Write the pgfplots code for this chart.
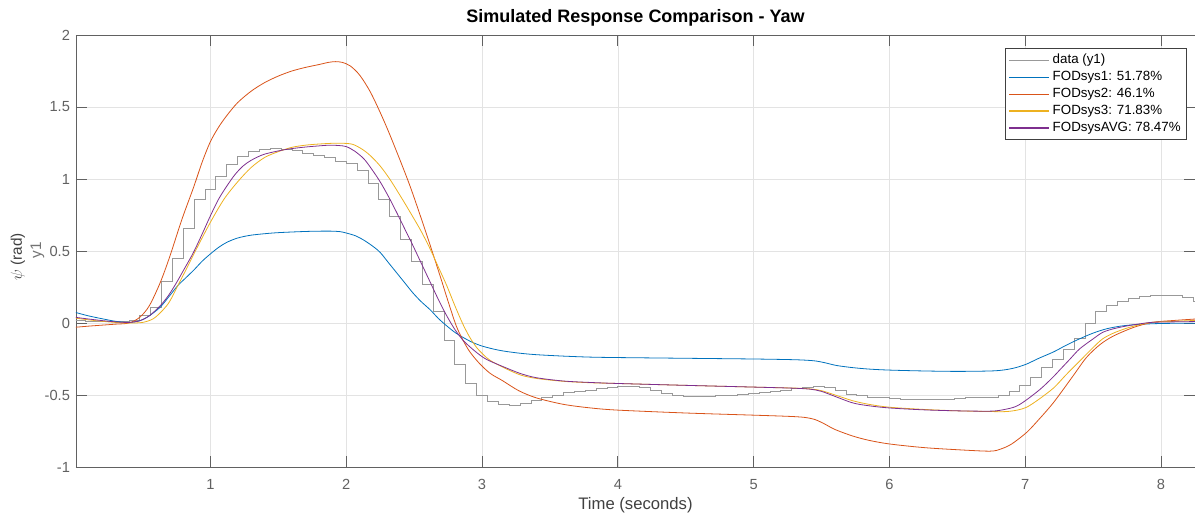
\documentclass[border=0pt]{standalone}
\usepackage{fontspec}
\setmainfont{Liberation Sans}
\usepackage{pgfplots}
\pgfplotsset{compat=1.18}

\definecolor{mblue}{rgb}{0,0.447,0.741}
\definecolor{morange}{rgb}{0.85,0.325,0.098}
\definecolor{myellow}{rgb}{0.929,0.694,0.125}
\definecolor{mpurple}{rgb}{0.494,0.184,0.556}
\definecolor{mgray}{rgb}{0.6,0.6,0.6}
\definecolor{axgray}{rgb}{0.38,0.38,0.38}

\begin{document}
\begin{tikzpicture}
\path[use as bounding box] (-57pt,-35.25pt) rectangle (839.25pt,350.25pt);
\begin{axis}[
    scale only axis,
    width=839.25pt, height=324pt,
    xmin=0.01, xmax=8.25,
    ymin=-1, ymax=2,
    xtick={1,2,3,4,5,6,7,8},
    ytick={-1,-0.5,0,0.5,1,1.5,2},
    grid=major,
    major grid style={black!11, line width=0.5pt},
    axis line style={axgray, line width=0.6pt},
    tick style={axgray, line width=0.6pt},
    major tick length=8.4pt,
    tick align=inside,
    xtick pos=both, ytick pos=both,
    /pgf/number format/assume math mode=true,
    ticklabel style={font=\fontsize{11}{13}\selectfont, text=black!62},
    yticklabel style={xshift=-1pt},
    xticklabel style={yshift=-6pt},
    title={\bfseries Simulated Response Comparison - Yaw},
    title style={font=\fontsize{13.5}{15}\selectfont, yshift=-3pt},
    xlabel={Time (seconds)},
    xlabel style={font=\fontsize{12.5}{14}\selectfont, text=black!75, yshift=1pt},
    legend style={at={(rel axis cs:1,1)}, anchor=north east,
        xshift=-6pt, yshift=-9.75pt,
        font=\fontsize{10}{12}\selectfont, draw=black!75, line width=0.5pt,
        row sep=0.2pt, inner sep=2.5pt},
    legend cell align=left,
    legend image code/.code={\draw[#1, line width=0.9pt] (0pt,0pt) -- (30pt,0pt);},
    clip=true,
]
% measured output
\addplot[mgray, line width=0.6pt, const plot] coordinates {
(0,0.015) (0.08,0.012) (0.16,0.01) (0.24,0.008) (0.32,0.008) (0.40,0.015)
(0.48,0.05) (0.56,0.11) (0.64,0.29) (0.72,0.45) (0.80,0.66) (0.88,0.86)
(0.96,0.93) (1.04,1.02) (1.12,1.10) (1.20,1.16) (1.28,1.19) (1.36,1.205)
(1.44,1.21) (1.52,1.205) (1.60,1.20) (1.68,1.18) (1.76,1.165) (1.84,1.15)
(1.92,1.125) (2.00,1.11) (2.08,1.06) (2.16,0.97) (2.24,0.86) (2.32,0.74)
(2.40,0.58) (2.48,0.43) (2.56,0.27) (2.64,0.08) (2.72,-0.12) (2.80,-0.29)
(2.88,-0.42) (2.96,-0.50) (3.04,-0.545) (3.12,-0.565) (3.20,-0.57) (3.28,-0.56)
(3.36,-0.54) (3.44,-0.52) (3.52,-0.50) (3.60,-0.485) (3.68,-0.475) (3.76,-0.465)
(3.84,-0.455) (3.92,-0.445) (4.00,-0.44) (4.08,-0.44) (4.16,-0.45) (4.24,-0.47)
(4.32,-0.49) (4.40,-0.50) (4.48,-0.51) (4.56,-0.51) (4.64,-0.51) (4.72,-0.505)
(4.80,-0.50) (4.88,-0.495) (4.96,-0.49) (5.04,-0.485) (5.12,-0.475) (5.20,-0.465)
(5.28,-0.455) (5.36,-0.445) (5.44,-0.44) (5.52,-0.445) (5.60,-0.47) (5.68,-0.495)
(5.76,-0.505) (5.84,-0.515) (5.92,-0.52) (6.00,-0.525) (6.08,-0.53) (6.16,-0.53)
(6.24,-0.53) (6.32,-0.53) (6.40,-0.53) (6.48,-0.525) (6.56,-0.52) (6.64,-0.52)
(6.72,-0.515) (6.80,-0.505) (6.88,-0.475) (6.96,-0.43) (7.04,-0.38) (7.12,-0.31)
(7.20,-0.25) (7.28,-0.18) (7.36,-0.11) (7.44,0.0) (7.52,0.08) (7.60,0.12)
(7.68,0.15) (7.76,0.17) (7.84,0.185) (7.92,0.19) (8.00,0.195) (8.08,0.19)
(8.16,0.18) (8.24,0.15) (8.26,0.15)
};
\addlegendentry{data (y1)}
% FODsys1
\addplot[mblue, line width=0.6pt, smooth, tension=0.5] coordinates {
(0,0.075) (0.1,0.05) (0.2,0.03) (0.3,0.012) (0.4,0.004) (0.48,0.016) (0.55,0.05)
(0.63,0.11) (0.7,0.19) (0.76,0.26) (0.82,0.315) (0.88,0.37) (0.94,0.43) (1.0,0.48)
(1.06,0.525) (1.12,0.56) (1.2,0.59) (1.3,0.61) (1.46,0.625) (1.6,0.632) (1.75,0.637)
(1.88,0.638) (1.95,0.635) (2.0,0.625) (2.07,0.605) (2.13,0.575) (2.2,0.53) (2.25,0.49)
(2.31,0.42) (2.37,0.35) (2.43,0.28) (2.49,0.21) (2.55,0.15) (2.62,0.09) (2.68,0.03)
(2.74,-0.02) (2.80,-0.065) (2.86,-0.10) (2.93,-0.135) (3.0,-0.16) (3.08,-0.18)
(3.16,-0.195) (3.28,-0.21) (3.40,-0.22) (3.6,-0.23) (3.8,-0.237) (4.0,-0.24)
(4.5,-0.245) (5.0,-0.25) (5.3,-0.255) (5.44,-0.262) (5.52,-0.275) (5.61,-0.295)
(5.73,-0.31) (5.85,-0.32) (6.0,-0.327) (6.25,-0.333) (6.5,-0.336) (6.75,-0.333)
(6.85,-0.325) (6.93,-0.31) (7.01,-0.285) (7.1,-0.245) (7.21,-0.20) (7.3,-0.155)
(7.4,-0.11) (7.5,-0.07) (7.6,-0.04) (7.7,-0.022) (7.8,-0.012) (7.94,-0.005)
(8.1,-0.002) (8.26,-0.002)
};
\addlegendentry{FODsys1: 51.78\%}
% FODsys2
\addplot[morange, line width=0.6pt, smooth, tension=0.5] coordinates {
(0,-0.03) (0.1,-0.022) (0.2,-0.015) (0.3,-0.008) (0.4,0.0) (0.48,0.04) (0.55,0.12)
(0.63,0.28) (0.7,0.46) (0.79,0.72) (0.875,0.94) (0.94,1.12) (1.0,1.26) (1.06,1.36)
(1.12,1.44) (1.2,1.53) (1.3,1.61) (1.4,1.67) (1.5,1.715) (1.6,1.75) (1.7,1.775)
(1.8,1.795) (1.87,1.81) (1.92,1.815) (1.97,1.81) (2.03,1.785) (2.1,1.72) (2.18,1.60)
(2.27,1.42) (2.35,1.24) (2.47,0.95) (2.59,0.62) (2.69,0.33) (2.75,0.15) (2.81,-0.02)
(2.86,-0.12) (2.91,-0.2) (2.98,-0.28) (3.06,-0.35) (3.15,-0.40) (3.27,-0.47)
(3.40,-0.52) (3.6,-0.565) (3.8,-0.59) (4.0,-0.605) (4.5,-0.625) (5.0,-0.64)
(5.25,-0.648) (5.37,-0.655) (5.45,-0.67) (5.52,-0.70) (5.6,-0.74) (5.73,-0.785)
(5.85,-0.815) (6.0,-0.84) (6.25,-0.865) (6.5,-0.88) (6.74,-0.89) (6.82,-0.875)
(6.9,-0.84) (7.01,-0.76) (7.1,-0.67) (7.21,-0.55) (7.35,-0.37) (7.45,-0.24)
(7.55,-0.15) (7.65,-0.09) (7.8,-0.03) (7.94,0.005) (8.1,0.018) (8.26,0.028)
};
\addlegendentry{FODsys2: 46.1\%}
% FODsys3
\addplot[myellow, line width=0.6pt, smooth, tension=0.5] coordinates {
(0,0.035) (0.1,0.022) (0.2,0.012) (0.3,0.004) (0.4,0.0) (0.5,0.004) (0.58,0.03)
(0.65,0.09) (0.7,0.15) (0.76,0.26) (0.82,0.37) (0.9,0.52) (1.0,0.70) (1.1,0.86)
(1.2,0.98) (1.3,1.08) (1.4,1.15) (1.5,1.19) (1.6,1.22) (1.7,1.235) (1.8,1.243)
(1.9,1.248) (1.98,1.248) (2.05,1.24) (2.12,1.205) (2.18,1.16) (2.25,1.09) (2.32,1.0)
(2.4,0.88) (2.47,0.77) (2.55,0.64) (2.62,0.51) (2.68,0.385) (2.74,0.26) (2.8,0.12)
(2.86,-0.01) (2.91,-0.1) (2.96,-0.17) (3.01,-0.22) (3.06,-0.26) (3.16,-0.31)
(3.28,-0.36) (3.40,-0.385) (3.6,-0.405) (3.8,-0.415) (4.0,-0.42) (4.5,-0.433)
(5.0,-0.445) (5.3,-0.452) (5.42,-0.458) (5.5,-0.47) (5.6,-0.50) (5.73,-0.54)
(5.85,-0.565) (6.0,-0.585) (6.25,-0.60) (6.5,-0.61) (6.75,-0.615) (6.86,-0.615)
(6.94,-0.605) (7.01,-0.585) (7.1,-0.53) (7.21,-0.45) (7.3,-0.36) (7.4,-0.265)
(7.5,-0.17) (7.57,-0.11) (7.65,-0.07) (7.75,-0.035) (7.85,-0.01) (7.94,0.005)
(8.1,0.012) (8.26,0.018)
};
\addlegendentry{FODsys3: 71.83\%}
% FODsysAVG
\addplot[mpurple, line width=0.6pt, smooth, tension=0.5] coordinates {
(0,0.04) (0.1,0.028) (0.2,0.017) (0.3,0.008) (0.4,0.004) (0.48,0.016) (0.55,0.05)
(0.63,0.12) (0.69,0.19) (0.75,0.28) (0.81,0.38) (0.875,0.49) (0.94,0.62) (1.0,0.745)
(1.06,0.86) (1.12,0.95) (1.18,1.03) (1.24,1.09) (1.3,1.13) (1.39,1.17) (1.5,1.195)
(1.59,1.21) (1.7,1.222) (1.8,1.23) (1.88,1.235) (1.95,1.232) (2.0,1.225) (2.06,1.195)
(2.13,1.14) (2.19,1.065) (2.25,0.98) (2.31,0.88) (2.37,0.77) (2.43,0.655) (2.49,0.54)
(2.55,0.42) (2.62,0.28) (2.68,0.16) (2.74,0.05) (2.8,-0.045) (2.86,-0.12)
(2.91,-0.165) (2.96,-0.205) (3.01,-0.24) (3.06,-0.265) (3.16,-0.305) (3.28,-0.35)
(3.40,-0.38) (3.6,-0.403) (3.8,-0.413) (4.0,-0.42) (4.5,-0.433) (5.0,-0.445)
(5.3,-0.453) (5.42,-0.46) (5.5,-0.475) (5.6,-0.51) (5.73,-0.555) (5.85,-0.575)
(6.0,-0.59) (6.25,-0.603) (6.5,-0.61) (6.75,-0.612) (6.85,-0.6) (6.93,-0.58)
(7.0,-0.54) (7.11,-0.46) (7.2,-0.38) (7.26,-0.32) (7.33,-0.25) (7.4,-0.18)
(7.5,-0.11) (7.57,-0.065) (7.65,-0.04) (7.75,-0.02) (7.85,-0.005) (7.94,0.005)
(8.1,0.008) (8.26,0.01)
};
\addlegendentry{FODsysAVG: 78.47\%}
\end{axis}
\node[rotate=90, text=black!75, font=\fontsize{11.5}{13}\selectfont]
  at (-43.5pt,157.5pt) {$\psi$ (rad)};
\node[rotate=90, text=black!55, font=\fontsize{11.5}{13}\selectfont]
  at (-29pt,162.75pt) {y1};
\end{tikzpicture}
\end{document}
